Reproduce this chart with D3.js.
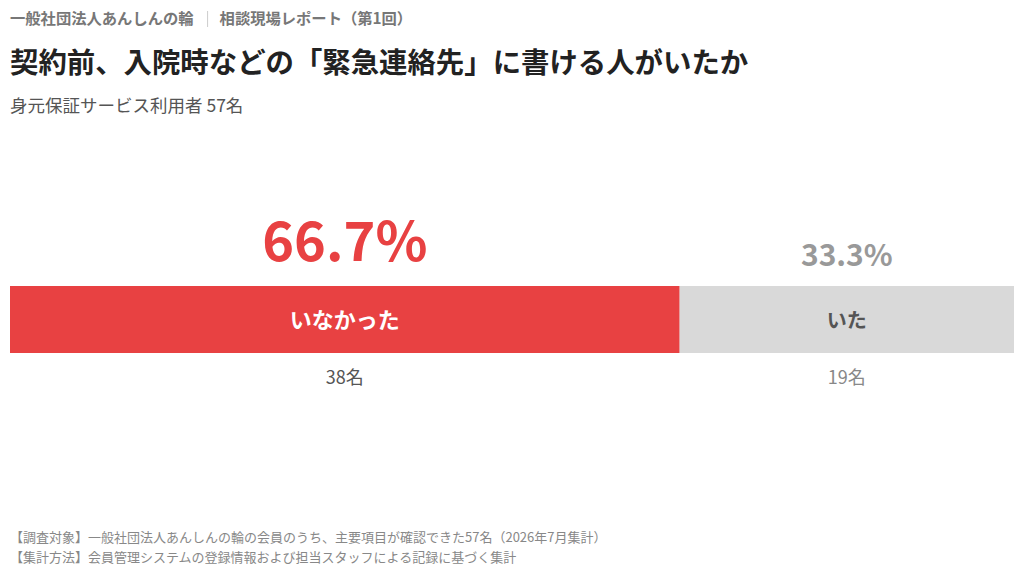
<!DOCTYPE html>
<html>
<head>
<meta charset="utf-8">
<script src="https://cdn.jsdelivr.net/npm/d3@7"></script>
<style>
  body { margin: 0; background: #fff; }
  svg { display: block; font-family: "Noto Sans CJK JP", "Noto Sans", sans-serif; }
</style>
</head>
<body>
<div id="chart"></div>
<script>
// data
const categories = ["いなかった", "いた"];
const counts = [38, 19];
const shares = [66.7, 33.3];
const barColors = ["#e84142", "#d9d9d9"];

const headerOrg = "一般社団法人あんしんの輪";
const headerReport = "相談現場レポート（第1回）";
const title = "契約前、入院時などの「緊急連絡先」に書ける人がいたか";
const subtitle = "身元保証サービス利用者 57名";
const notes = [
    "【調査対象】一般社団法人あんしんの輪の会員のうち、主要項目が確認できた57名（2026年7月集計）",
    "【集計方法】会員管理システムの登録情報および担当スタッフによる記録に基づく集計"
];

const width = 1024, height = 575;

const svg = d3.select("#chart").append("svg")
    .attr("width", width)
    .attr("height", height);

// header line: org | report
const org = svg.append("text")
    .attr("x", 10)
    .attr("y", 24)
    .attr("fill", "#777")
    .style("font-size", "15.3px")
    .style("font-weight", "bold")
    .text(headerOrg);
const orgEnd = 10 + org.node().getComputedTextLength();

svg.append("line")
    .attr("x1", orgEnd + 14)
    .attr("x2", orgEnd + 14)
    .attr("y1", 11)
    .attr("y2", 27)
    .attr("stroke", "#ccc")
    .attr("stroke-width", 1);

svg.append("text")
    .attr("x", orgEnd + 26)
    .attr("y", 24)
    .attr("fill", "#777")
    .style("font-size", "15.3px")
    .style("font-weight", "bold")
    .text(headerReport);

svg.append("text")
    .attr("x", 10)
    .attr("y", 73)
    .attr("fill", "#222")
    .style("font-size", "28.4px")
    .style("font-weight", "bold")
    .text(title);

svg.append("text")
    .attr("x", 10)
    .attr("y", 112)
    .attr("fill", "#555")
    .style("font-size", "17.5px")
    .text(subtitle);

// stacked bar
const x = d3.scaleLinear()
    .domain([0, 100])
    .range([10, 1014]);

const barTop = 286, barH = 67;

const starts = shares.map((d, i) => d3.sum(shares.slice(0, i)));
const data = categories.map((c, i) => ({
    name: c,
    count: counts[i],
    share: shares[i],
    x0: starts[i],
    x1: starts[i] + shares[i],
    i: i
}));

const g = svg.append("g");

g.selectAll("rect")
    .data(data)
    .enter()
    .append("rect")
      .attr("x", d => x(d.x0))
      .attr("y", barTop)
      .attr("width", d => x(d.x1) - x(d.x0))
      .attr("height", barH)
      .attr("fill", d => barColors[d.i]);

const mid = d => (x(d.x0) + x(d.x1)) / 2;

// category labels inside the bar
g.selectAll(".cat")
    .data(data)
    .enter()
    .append("text")
      .attr("x", mid)
      .attr("y", barTop + barH / 2 + 8)
      .attr("text-anchor", "middle")
      .attr("fill", d => d.i === 0 ? "#fff" : "#555")
      .style("font-size", d => d.i === 0 ? "22px" : "20px")
      .style("font-weight", "bold")
      .text(d => d.name);

// percentages above
g.selectAll(".pct")
    .data(data)
    .enter()
    .append("text")
      .attr("x", mid)
      .attr("y", d => d.i === 0 ? 261 : 266)
      .attr("text-anchor", "middle")
      .attr("fill", d => d.i === 0 ? "#e84142" : "#999")
      .style("font-size", d => d.i === 0 ? "54px" : "30px")
      .style("font-weight", "bold")
      .text(d => d.share.toFixed(1) + "%");

// counts below
g.selectAll(".cnt")
    .data(data)
    .enter()
    .append("text")
      .attr("x", mid)
      .attr("y", 384)
      .attr("text-anchor", "middle")
      .attr("fill", d => d.i === 0 ? "#555" : "#888")
      .style("font-size", "18px")
      .text(d => d.count + "名");

// footnotes
svg.append("g")
    .selectAll("text")
    .data(notes)
    .enter()
    .append("text")
      .attr("x", 10)
      .attr("y", (d, i) => 542 + i * 20)
      .attr("fill", "#888")
      .style("font-size", "13px")
      .text(d => d);
</script>
</body>
</html>
